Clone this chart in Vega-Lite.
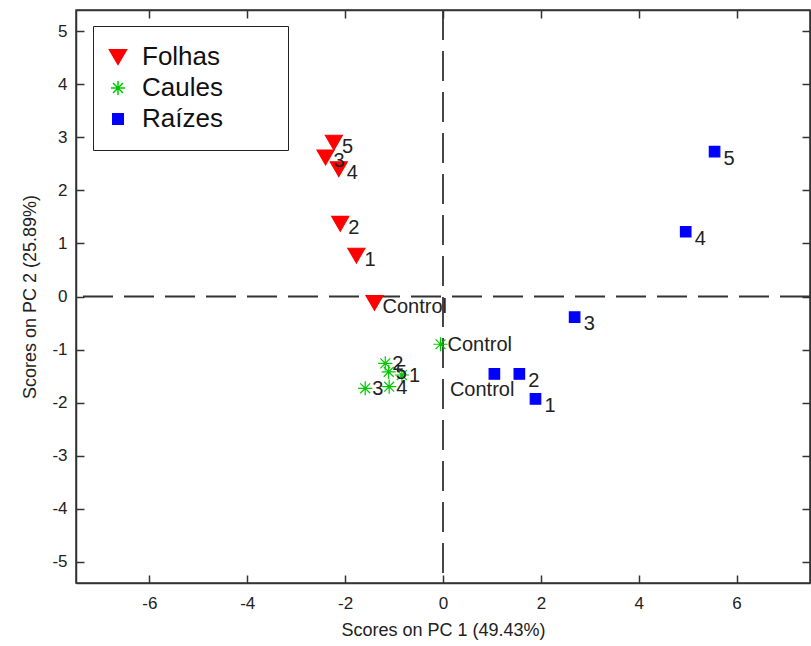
{
  "$schema": "https://vega.github.io/schema/vega-lite/v6.json",
  "width": 734,
  "height": 573,
  "autosize": {"type": "none"},
  "padding": {"left": 76, "top": 10, "right": 1, "bottom": 63},
  "background": "white",
  "config": {
    "view": {"stroke": "#333", "strokeWidth": 1.5},
    "font": "Liberation Sans"
  },
  "data": {
    "values": [
      {"tissue": "Folhas", "label": "Control", "pc1": -1.40, "pc2": -0.12},
      {"tissue": "Folhas", "label": "1", "pc1": -1.77, "pc2": 0.77},
      {"tissue": "Folhas", "label": "2", "pc1": -2.10, "pc2": 1.37},
      {"tissue": "Folhas", "label": "3", "pc1": -2.40, "pc2": 2.62},
      {"tissue": "Folhas", "label": "4", "pc1": -2.13, "pc2": 2.40},
      {"tissue": "Folhas", "label": "5", "pc1": -2.23, "pc2": 2.90},
      {"tissue": "Caules", "label": "Control", "pc1": -0.05, "pc2": -0.90},
      {"tissue": "Caules", "label": "1", "pc1": -0.84, "pc2": -1.48},
      {"tissue": "Caules", "label": "2", "pc1": -1.18, "pc2": -1.26},
      {"tissue": "Caules", "label": "3", "pc1": -1.59, "pc2": -1.73},
      {"tissue": "Caules", "label": "4", "pc1": -1.10, "pc2": -1.70},
      {"tissue": "Caules", "label": "5", "pc1": -1.11, "pc2": -1.42},
      {"tissue": "Raízes", "label": "Control", "pc1": 1.05, "pc2": -1.46},
      {"tissue": "Raízes", "label": "1", "pc1": 1.89, "pc2": -1.93},
      {"tissue": "Raízes", "label": "2", "pc1": 1.56, "pc2": -1.46},
      {"tissue": "Raízes", "label": "3", "pc1": 2.69, "pc2": -0.39},
      {"tissue": "Raízes", "label": "4", "pc1": 4.96, "pc2": 1.22},
      {"tissue": "Raízes", "label": "5", "pc1": 5.55, "pc2": 2.73}
    ]
  },
  "resolve": {"axis": {"x": "independent", "y": "independent"}},
  "layer": [
    {
      "data": {"values": [{"zero": 0}]},
      "mark": {"type": "rule", "color": "#333", "strokeWidth": 1.8, "strokeDash": [30, 11]},
      "encoding": {
        "x": {
          "field": "zero", "type": "quantitative",
          "scale": {"domain": [-7.5, 7.5], "nice": false, "zero": false},
          "axis": {"orient": "top", "title": null, "labels": false, "grid": false,
                   "values": [-6, -4, -2, 0, 2, 4, 6], "tickSize": -8, "tickColor": "#333",
                   "tickWidth": 1.5, "domainColor": "#333", "domainWidth": 1.5}
        }
      }
    },
    {
      "data": {"values": [{"zero": 0}]},
      "mark": {"type": "rule", "color": "#333", "strokeWidth": 1.8, "strokeDash": [30, 11]},
      "encoding": {
        "y": {
          "field": "zero", "type": "quantitative",
          "scale": {"domain": [-5.4, 5.4], "nice": false, "zero": false},
          "axis": {"orient": "right", "title": null, "labels": false, "grid": false,
                   "values": [-5, -4, -3, -2, -1, 0, 1, 2, 3, 4, 5], "tickSize": -8, "tickColor": "#333",
                   "tickWidth": 1.5, "domainColor": "#333", "domainWidth": 1.5}
        }
      }
    },
    {
      "mark": {"type": "point", "opacity": 1, "strokeWidth": 1.2},
      "encoding": {
        "x": {
          "field": "pc1", "type": "quantitative",
          "scale": {"domain": [-7.5, 7.5], "nice": false, "zero": false},
          "axis": {"orient": "bottom", "title": "Scores on PC 1 (49.43%)", "grid": false,
                   "values": [-6, -4, -2, 0, 2, 4, 6], "tickSize": -8, "tickColor": "#333",
                   "tickWidth": 1.5, "domainColor": "#333", "domainWidth": 1.5,
                   "labelExpr": "'' + datum.value",
                   "labelFont": "Liberation Sans", "labelFontSize": 17, "labelColor": "#222",
                   "labelPadding": 20, "titleFont": "Liberation Sans", "titleFontSize": 18,
                   "titleFontWeight": "normal", "titleColor": "#222", "titlePadding": 10}
        },
        "y": {
          "field": "pc2", "type": "quantitative",
          "scale": {"domain": [-5.4, 5.4], "nice": false, "zero": false},
          "axis": {"orient": "left", "title": "Scores on PC 2 (25.89%)", "grid": false,
                   "values": [-5, -4, -3, -2, -1, 0, 1, 2, 3, 4, 5], "tickSize": -8, "tickColor": "#333",
                   "tickWidth": 1.5, "domainColor": "#333", "domainWidth": 1.5,
                   "labelExpr": "'' + datum.value",
                   "labelFont": "Liberation Sans", "labelFontSize": 17, "labelColor": "#222",
                   "labelPadding": 17, "titleFont": "Liberation Sans", "titleFontSize": 18,
                   "titleFontWeight": "normal", "titleColor": "#222", "titlePadding": 12}
        },
        "shape": {
          "field": "tissue", "type": "nominal",
          "scale": {"domain": ["Folhas", "Caules", "Raízes"],
                    "range": ["triangle-down", "M-1,0H1M0,-1V1M-0.7,-0.7L0.7,0.7M-0.7,0.7L0.7,-0.7", "square"]},
          "legend": {"orient": "none", "legendX": 17, "legendY": 16, "title": null,
                     "strokeColor": "#222", "fillColor": "white", "padding": 18,
                     "labelFontSize": 26, "labelFont": "Liberation Sans", "labelColor": "#111",
                     "symbolOffset": -6, "labelOffset": 11, "rowPadding": 5,
                     "labelExpr": "datum.label + '\u2003\u2002\u00a0\u200b'"}
        },
        "fill": {
          "field": "tissue", "type": "nominal",
          "scale": {"domain": ["Folhas", "Caules", "Raízes"], "range": ["#ff0000", "transparent", "#0000ff"]},
          "legend": {"orient": "none", "legendX": 17, "legendY": 16, "title": null,
                     "strokeColor": "#222", "fillColor": "white", "padding": 18,
                     "labelFontSize": 26, "labelFont": "Liberation Sans", "labelColor": "#111",
                     "symbolOffset": -6, "labelOffset": 11, "rowPadding": 5,
                     "labelExpr": "datum.label + '\u2003\u2002\u00a0\u200b'"}
        },
        "stroke": {
          "field": "tissue", "type": "nominal",
          "scale": {"domain": ["Folhas", "Caules", "Raízes"], "range": ["#ff0000", "#00c800", "#0000ff"]},
          "legend": {"orient": "none", "legendX": 17, "legendY": 16, "title": null,
                     "strokeColor": "#222", "fillColor": "white", "padding": 18,
                     "labelFontSize": 26, "labelFont": "Liberation Sans", "labelColor": "#111",
                     "symbolOffset": -6, "labelOffset": 11, "rowPadding": 5,
                     "labelExpr": "datum.label + '\u2003\u2002\u00a0\u200b'"}
        },
        "size": {
          "field": "tissue", "type": "nominal",
          "scale": {"domain": ["Folhas", "Caules", "Raízes"], "range": [290, 110, 210]},
          "legend": {"orient": "none", "legendX": 17, "legendY": 16, "title": null,
                     "strokeColor": "#222", "fillColor": "white", "padding": 18,
                     "labelFontSize": 26, "labelFont": "Liberation Sans", "labelColor": "#111",
                     "symbolOffset": -6, "labelOffset": 11, "rowPadding": 5,
                     "labelExpr": "datum.label + '\u2003\u2002\u00a0\u200b'"}
        }
      }
    },
    {
      "transform": [{"filter": "datum.tissue == 'Folhas'"}],
      "mark": {"type": "text", "align": "left", "baseline": "middle", "dx": 8, "dy": 4,
               "fontSize": 20, "font": "Liberation Sans", "color": "#222"},
      "encoding": {
        "x": {"field": "pc1", "type": "quantitative", "axis": null},
        "y": {"field": "pc2", "type": "quantitative", "axis": null},
        "text": {"field": "label"}
      }
    },
    {
      "transform": [{"filter": "datum.tissue == 'Caules'"}],
      "mark": {"type": "text", "align": "left", "baseline": "middle", "dx": 7, "dy": 1,
               "fontSize": 20, "font": "Liberation Sans", "color": "#222"},
      "encoding": {
        "x": {"field": "pc1", "type": "quantitative", "axis": null},
        "y": {"field": "pc2", "type": "quantitative", "axis": null},
        "text": {"field": "label"}
      }
    },
    {
      "transform": [{"filter": "datum.tissue == 'Raízes' && datum.label != 'Control'"}],
      "mark": {"type": "text", "align": "left", "baseline": "middle", "dx": 9, "dy": 7,
               "fontSize": 20, "font": "Liberation Sans", "color": "#222"},
      "encoding": {
        "x": {"field": "pc1", "type": "quantitative", "axis": null},
        "y": {"field": "pc2", "type": "quantitative", "axis": null},
        "text": {"field": "label"}
      }
    },
    {
      "transform": [{"filter": "datum.tissue == 'Raízes' && datum.label == 'Control'"}],
      "mark": {"type": "text", "align": "right", "baseline": "middle", "dx": 20, "dy": 16,
               "fontSize": 20, "font": "Liberation Sans", "color": "#222"},
      "encoding": {
        "x": {"field": "pc1", "type": "quantitative", "axis": null},
        "y": {"field": "pc2", "type": "quantitative", "axis": null},
        "text": {"field": "label"}
      }
    }
  ]
}
